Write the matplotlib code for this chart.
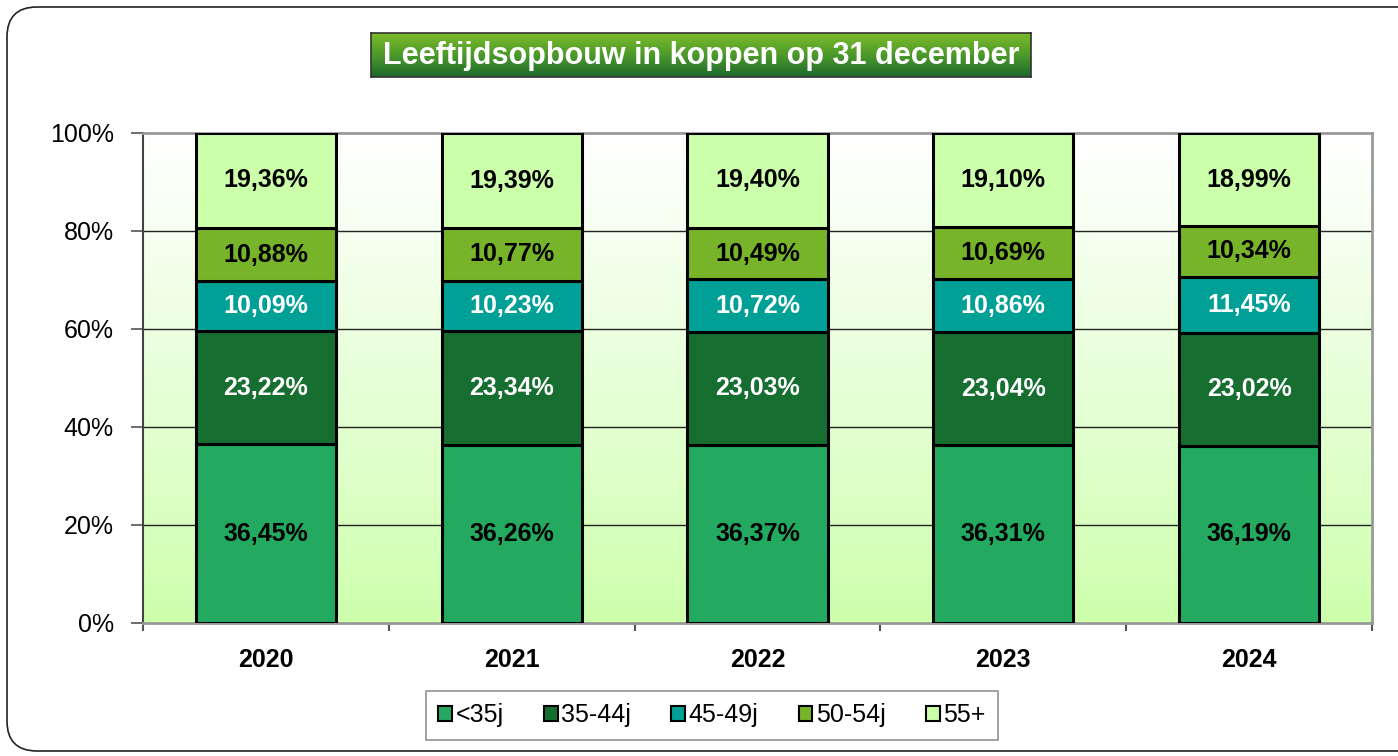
import numpy as np
import matplotlib
matplotlib.use('Agg')
from matplotlib import pyplot as plt
from matplotlib.patches import Patch, FancyBboxPatch
from matplotlib.colors import LinearSegmentedColormap

plt.rcParams['font.family'] = ['Liberation Sans', 'DejaVu Sans']

years = ['2020', '2021', '2022', '2023', '2024']
groups = ['<35j', '35-44j', '45-49j', '50-54j', '55+']
lt35 = [36.45, 36.26, 36.37, 36.31, 36.19]
g35_44 = [23.22, 23.34, 23.03, 23.04, 23.02]
g45_49 = [10.09, 10.23, 10.72, 10.86, 11.45]
g50_54 = [10.88, 10.77, 10.49, 10.69, 10.34]
g55 = [19.36, 19.39, 19.40, 19.10, 18.99]
series = [lt35, g35_44, g45_49, g50_54, g55]

colors = ['#24AA60', '#176E31', '#00A096', '#78B42A', '#CCFFAA']
label_colors = ['black', 'white', 'white', 'black', 'black']

fig = plt.figure(figsize=(13.98, 7.56), dpi=100)

# rounded frame round the whole chart
frame = FancyBboxPatch((0.07, 0.05), 14.5, 7.44, boxstyle='round,pad=0,rounding_size=0.3',
                       transform=fig.dpi_scale_trans, fill=False, edgecolor='#222222', lw=1.2)
fig.patches.append(frame)

ax = fig.add_axes([143/1398, 1-623/756, 1229/1398, 490/756])
x = np.arange(len(years))

# gradient background: white at top to light green at bottom
cmap_bg = LinearSegmentedColormap.from_list('bg', ['#CCFFAA', '#E6FFD6', '#FFFFFF'])
grad = np.linspace(0, 1, 256).reshape(-1, 1) ** 0.9
ax.imshow(grad, extent=(-0.5, 4.5, 0, 100), origin='lower', aspect='auto', cmap=cmap_bg, zorder=0)

for yv in [20, 40, 60, 80]:
    ax.axhline(yv, color='#222222', lw=1.0, zorder=1)

bottom = np.zeros(len(years))
for vals, col, lc in zip(series, colors, label_colors):
    vals = np.array(vals)
    ax.bar(x, vals, 0.57, bottom=bottom, color=col, edgecolor='black', lw=2.2, zorder=3)
    for xi, b, v in zip(x, bottom, vals):
        ax.text(xi, b + v/2, ('%.2f%%' % v).replace('.', ','), ha='center', va='center',
                fontsize=18, fontweight='bold', color=lc, zorder=4)
    bottom += vals

ax.set_xlim(-0.5, 4.5)
ax.set_ylim(0, 100)
ax.set_yticks([0, 20, 40, 60, 80, 100])
ax.set_yticklabels(['0%', '20%', '40%', '60%', '80%', '100%'], fontsize=18)
ax.set_xticks(x)
ax.set_xticklabels(years, fontsize=18, fontweight='bold')
ax.tick_params(axis='x', length=0, pad=18)
ax.set_xticks(np.arange(-0.5, 5, 1), minor=True)
ax.tick_params(axis='x', which='minor', length=6, color='#555555', width=1.5)
ax.tick_params(axis='y', length=9, color='#555555', width=1.2, pad=12)
for s in ['top', 'right']:
    ax.spines[s].set_color('#999999')
    ax.spines[s].set_linewidth(2)
ax.spines['left'].set_color('#444444')
ax.spines['left'].set_linewidth(1.5)
ax.spines['bottom'].set_color('#999999')
ax.spines['bottom'].set_linewidth(2)

# title box with green gradient
tax = fig.add_axes([371/1398, 1-77/756, 660/1398, 44/756])
cmap_t = LinearSegmentedColormap.from_list('t', ['#1D6A2D', '#4C9A2B', '#7CBA2A'])
tax.imshow(np.linspace(0, 1, 64).reshape(-1, 1), extent=(0, 1, 0, 1), origin='lower',
           aspect='auto', cmap=cmap_t)
tax.set_xticks([])
tax.set_yticks([])
for s in tax.spines.values():
    s.set_color('#333333')
    s.set_linewidth(1.2)
tax.text(0.5, 0.47, 'Leeftijdsopbouw in koppen op 31 december', ha='center', va='center',
         color='white', fontsize=22, fontweight='bold', transform=tax.transAxes)

handles = [Patch(facecolor=c, edgecolor='black', lw=1.5) for c in colors]
leg = fig.legend(handles, groups, loc='center', bbox_to_anchor=(712/1398, 1-715/756), ncol=5,
                 fontsize=18, frameon=True, fancybox=False, edgecolor='#777777',
                 handlelength=0.55, handleheight=0.55, handletextpad=0.15, columnspacing=1.6,
                 borderpad=0.5, borderaxespad=0)
leg.get_frame().set_linewidth(1.2)

fig.savefig('out.png', dpi=100)
